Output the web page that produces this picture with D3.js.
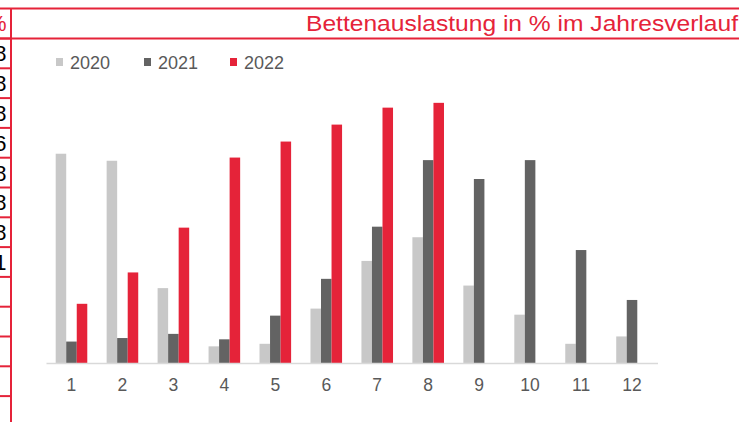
<!DOCTYPE html>
<html>
<head>
<meta charset="utf-8">
<script src="https://cdn.jsdelivr.net/npm/d3@7"></script>
<style>
  html, body { margin: 0; padding: 0; background: #fff; overflow: hidden; }
  svg { display: block; font-family: "Liberation Sans", Arial, sans-serif; }
</style>
</head>
<body>
<svg id="chart"></svg>
<script>
const MONTHS = ["1", "2", "3", "4", "5", "6", "7", "8", "9", "10", "11", "12"];
const SERIES = ["2020", "2021", "2022"];
const values2020 = [65.4, 63.2, 23.4, 5.2, 6.0, 17.0, 31.9, 39.3, 24.2, 15.1, 6.0, 8.3];
const values2021 = [6.7, 7.8, 9.1, 7.4, 14.8, 26.3, 42.6, 63.4, 57.5, 63.4, 35.3, 19.7];
const values2022 = [18.5, 28.3, 42.3, 64.2, 69.2, 74.5, 79.8, 81.3, null, null, null, null];
// clipped column of the neighbouring table on the left
const sideDigits = ["8", "8", "8", "6", "8", "8", "8", "1"];

const TITLE = "Bettenauslastung in % im Jahresverlauf";
const COLORS = ["#c8c8c8", "#636363", "#e52339"];
const RED = "#e52339";

const width = 739, height = 422;
const margin = { top: 43, right: 82, bottom: 59, left: 46 };

const svg = d3.select("#chart").attr("width", width).attr("height", height);

const data = MONTHS.map((m, i) => ({
  month: m,
  "2020": values2020[i],
  "2021": values2021[i],
  "2022": values2022[i],
}));

// frame lines (red)
const frame = svg.append("g").attr("stroke", RED).attr("stroke-width", 2);
frame.append("line").attr("x1", 0).attr("x2", width).attr("y1", 8.5).attr("y2", 8.5);
frame.append("line").attr("x1", 0).attr("x2", width).attr("y1", 38.5).attr("y2", 38.5);
frame.append("line").attr("x1", 11).attr("x2", 11).attr("y1", 8).attr("y2", height);

const rowH = 29.8;
d3.range(13).forEach((i) => {
  frame.append("line")
    .attr("x1", 0).attr("x2", 11)
    .attr("y1", 38.5 + i * rowH).attr("y2", 38.5 + i * rowH);
});

svg.append("text")
  .attr("x", 6.5).attr("y", 31)
  .attr("text-anchor", "end")
  .attr("font-size", 22)
  .attr("fill", RED)
  .text("%");

svg.append("g")
  .selectAll("text")
  .data(sideDigits)
  .join("text")
  .attr("x", 6.5)
  .attr("y", (d, i) => 38.5 + i * rowH + rowH / 2 + 8)
  .attr("text-anchor", "end")
  .attr("font-size", 22)
  .attr("fill", "#000")
  .text((d) => d);

// title
svg.append("text")
  .attr("x", 738)
  .attr("y", 31)
  .attr("text-anchor", "end")
  .attr("font-size", 22.5)
  .attr("textLength", 432)
  .attr("lengthAdjust", "spacingAndGlyphs")
  .attr("fill", RED)
  .text(TITLE);

// scales
const x = d3.scaleBand()
  .domain(MONTHS)
  .range([margin.left, width - margin.right + 0.5])
  .paddingInner(0.38)
  .paddingOuter(0.19);

const sub = d3.scaleBand()
  .domain(SERIES)
  .range([0, x.bandwidth()])
  .padding(0);

const y = d3.scaleLinear()
  .domain([0, 100])
  .range([height - margin.bottom, margin.top]);

const color = d3.scaleOrdinal().domain(SERIES).range(COLORS);

// bars
svg.append("g")
  .selectAll("g")
  .data(data)
  .join("g")
  .attr("transform", (d) => `translate(${x(d.month)},0)`)
  .selectAll("rect")
  .data((d) => SERIES.map((key) => ({ key, value: d[key] })).filter((e) => e.value != null))
  .join("rect")
  .attr("x", (d) => sub(d.key))
  .attr("width", sub.bandwidth())
  .attr("y", (d) => y(d.value))
  .attr("height", (d) => y(0) - y(d.value))
  .attr("fill", (d) => color(d.key));

// x axis
svg.append("g")
  .attr("transform", `translate(0,${y(0)})`)
  .call(d3.axisBottom(x).tickSize(0).tickPadding(16))
  .call((g) => g.select(".domain").attr("stroke", "#d9d9d9").attr("stroke-width", 1.5))
  .call((g) => g.selectAll(".tick text")
    .attr("font-size", 17.5)
    .attr("font-family", "Liberation Sans, Arial, sans-serif")
    .attr("fill", "#595959"));

// legend
const legendX = [56, 144, 230];
const legend = svg.append("g")
  .selectAll("g")
  .data(SERIES)
  .join("g")
  .attr("transform", (d, i) => `translate(${legendX[i]},62)`);

legend.append("rect")
  .attr("x", 0).attr("y", -4)
  .attr("width", 7).attr("height", 8)
  .attr("fill", (d) => color(d));

legend.append("text")
  .attr("x", 14)
  .attr("y", 6.5)
  .attr("font-size", 18)
  .attr("fill", "#595959")
  .text((d) => d);
</script>
</body>
</html>
